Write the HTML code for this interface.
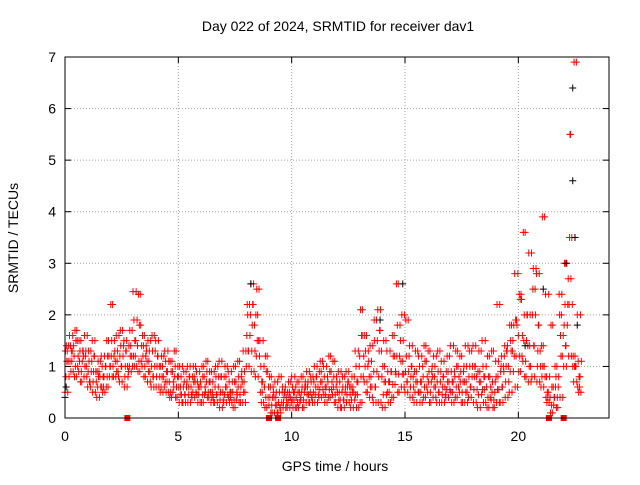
<!DOCTYPE html>
<html><head><meta charset="utf-8"><style>
body{margin:0;background:#fff}
svg text{font-family:"Liberation Sans",sans-serif;font-size:14px;fill:#000}
</style></head><body>
<svg id="chart" width="640" height="480" xmlns="http://www.w3.org/2000/svg">
<rect width="640" height="480" fill="#fff"/>
<text x="338" y="31" text-anchor="middle">Day 022 of 2024, SRMTID for receiver dav1</text>
<text x="335" y="471" text-anchor="middle">GPS time / hours</text>
<text transform="translate(18,238) rotate(-90)" text-anchor="middle">SRMTID / TECUs</text>
<g id="grid"></g>
<g id="ticks"></g>
<g id="marks"></g>
<rect x="65" y="57" width="544" height="361" fill="none" stroke="#000" stroke-width="1"/>
</svg>
<script>
const xTicks=[0,5,10,15,20];
const yTicks=[0,1,2,3,4,5,6,7];
const seriesStart=0, seriesStep=0.2;
const hiVals=[1.4,1.6,1.7,1.5,1.6,1.3,1.5,1.1,1.2,1.5,2.2,1.6,1.7,1.5,1.7,2.45,2.4,1.6,1.5,1.6,1.5,1.2,1.3,1.1,1.3,1.0,0.9,1.0,1.0,0.9,1.0,1.1,0.9,1.0,1.1,1.0,0.9,1.0,1.1,1.3,2.2,2.6,2.5,1.5,1.2,0.8,0.7,0.8,0.6,0.7,0.8,0.7,0.8,0.9,0.8,1.0,1.1,1.0,1.2,1.1,0.9,0.8,0.9,0.8,1.3,2.1,1.6,1.4,1.9,2.1,1.5,1.3,1.6,2.6,2.0,1.9,1.4,1.3,1.2,1.4,1.3,1.2,1.3,1.1,1.2,1.4,1.3,1.2,1.4,1.3,1.4,1.3,1.5,1.2,1.3,2.2,1.0,1.4,1.5,1.8,2.4,3.6,3.2,2.5,2.8,3.9,2.4,1.8,1.0,1.6,3.0,2.7,6.9,2.0,1.4];
const hiMidVals=[1.3,1.4,1.5,1.3,1.3,1.1,1.2,0.9,1.0,1.2,1.5,1.3,1.4,1.3,1.4,1.9,1.8,1.4,1.3,1.3,1.2,1.0,1.1,0.9,1.0,0.8,0.7,0.8,0.8,0.7,0.8,0.9,0.7,0.8,0.8,0.8,0.7,0.7,0.8,0.9,2.0,2.2,2.0,1.0,0.9,0.6,0.5,0.5,0.5,0.5,0.6,0.5,0.6,0.7,0.7,0.8,0.9,0.8,0.9,0.8,0.7,0.6,0.7,0.6,1.0,1.6,1.3,1.1,1.5,1.7,1.0,0.9,1.2,1.8,1.5,1.2,1.0,0.9,1.0,1.1,0.9,1.0,0.9,0.8,0.9,0.9,1.0,0.9,1.0,1.0,1.0,0.9,1.0,0.8,0.7,1.1,1.2,1.3,1.8,2.8,2.3,2.0,2.0,2.9,1.8,1.4,0.8,0.6,0.8,2.4,2.2,5.5,1.2,1.1];
const midVals=[1.1,1.3,1.2,1.1,1.2,0.9,0.9,0.8,0.8,1.0,1.2,1.1,1.2,1.0,1.2,1.5,1.4,1.2,1.1,1.0,1.0,0.8,0.9,0.7,0.8,0.6,0.6,0.6,0.7,0.6,0.6,0.7,0.5,0.6,0.5,0.6,0.5,0.5,0.6,0.7,1.6,1.8,1.5,0.7,0.6,0.4,0.4,0.3,0.4,0.4,0.5,0.4,0.5,0.6,0.5,0.6,0.7,0.6,0.7,0.6,0.5,0.5,0.6,0.5,0.7,1.2,1.0,0.8,0.9,1.3,0.7,0.7,0.9,1.2,1.1,0.9,0.8,0.7,0.7,0.8,0.7,0.8,0.7,0.6,0.7,0.7,0.8,0.7,0.7,0.8,0.8,0.7,0.8,0.6,0.5,0.8,0.9,1.0,1.3,1.9,1.6,1.5,1.4,2.0,1.3,1.0,0.5,0.4,0.6,2.0,1.8,3.5,1.0,0.8];
const loMidVals=[0.8,1.1,1.0,0.9,1.0,0.7,0.7,0.6,0.6,0.8,1.0,0.9,1.0,0.8,1.0,1.2,1.1,1.0,0.9,0.8,0.8,0.6,0.7,0.5,0.6,0.45,0.45,0.45,0.5,0.45,0.45,0.5,0.4,0.45,0.35,0.45,0.4,0.35,0.45,0.5,1.3,1.3,1.2,0.5,0.4,0.25,0.25,0.2,0.3,0.3,0.35,0.3,0.35,0.45,0.4,0.45,0.55,0.45,0.55,0.45,0.35,0.35,0.45,0.35,0.45,0.8,0.7,0.6,0.6,0.8,0.45,0.5,0.65,0.85,0.85,0.7,0.6,0.5,0.5,0.6,0.5,0.6,0.5,0.45,0.55,0.5,0.6,0.5,0.5,0.6,0.55,0.45,0.55,0.4,0.35,0.55,0.6,0.7,0.9,1.2,1.2,1.1,1.0,1.4,1.0,0.8,0.4,0.25,0.4,1.2,1.4,2.2,0.7,0.6];
const loVals=[0.5,0.9,0.8,0.7,0.8,0.6,0.5,0.4,0.5,0.6,0.8,0.8,0.7,0.6,0.9,1.0,0.9,0.8,0.7,0.6,0.6,0.5,0.5,0.4,0.4,0.3,0.3,0.3,0.4,0.3,0.3,0.4,0.3,0.3,0.2,0.3,0.3,0.2,0.3,0.3,1.0,0.9,0.8,0.3,0.2,0.1,0.1,0.1,0.2,0.2,0.2,0.2,0.2,0.3,0.3,0.3,0.4,0.3,0.4,0.3,0.2,0.2,0.3,0.2,0.2,0.3,0.5,0.4,0.3,0.3,0.2,0.3,0.4,0.5,0.6,0.5,0.4,0.3,0.3,0.4,0.3,0.4,0.3,0.3,0.4,0.3,0.4,0.3,0.3,0.4,0.3,0.2,0.3,0.2,0.2,0.3,0.3,0.4,0.5,0.6,0.9,0.8,0.7,0.8,0.7,0.6,0.3,0.1,0.2,0.4,1.0,1.2,1.0,0.5,0.4];
const blackTimes=[0.0,0.05,8.2,13.9,14.9,21.1,22.4,22.4,22.5,22.1,22.6,20.3];
const blackVals=[0.4,0.6,2.6,1.9,2.6,2.5,6.4,4.6,3.5,3.0,1.8,1.4];
const squareTimes=[2.75,9.0,9.4,21.35,22.0];
const squareVals=[0,0,0,0,0];

const X0=65,X1=609,Y0=418,Y1=57;
const xs=t=>X0+t*(X1-X0)/24;
const ys=v=>Y0-v*(Y0-Y1)/7;
const NS='http://www.w3.org/2000/svg';
const grid=document.getElementById('grid'),ticks=document.getElementById('ticks'),marks=document.getElementById('marks');
function mk(tag,attrs,parent){const e=document.createElementNS(NS,tag);for(const k in attrs)e.setAttribute(k,attrs[k]);parent.appendChild(e);return e;}
xTicks.forEach(t=>{
 const x=xs(t);
 if(t>0){const g=mk('line',{x1:x,x2:x,y1:Y0,y2:Y1,stroke:'#a0a0a0','stroke-dasharray':'1,2'},grid);
 
 }
 mk('line',{x1:x,x2:x,y1:Y0,y2:Y0-6,stroke:'#000'},ticks);
 mk('line',{x1:x,x2:x,y1:Y1,y2:Y1+6,stroke:'#000'},ticks);
 const l=mk('text',{x:x,y:Y0+23,'text-anchor':'middle'},ticks);l.textContent=t;
 
 
});
yTicks.forEach(v=>{
 const y=ys(v);
 if(v>0&&v<7){const g=mk('line',{x1:X0,x2:X1,y1:y,y2:y,stroke:'#a0a0a0','stroke-dasharray':'1,2'},grid);
 
 }
 mk('line',{x1:X0,x2:X0+6,y1:y,y2:y,stroke:'#000'},ticks);
 mk('line',{x1:X1,x2:X1-6,y1:y,y2:y,stroke:'#000'},ticks);
 const l=mk('text',{x:X0-9,y:y+5,'text-anchor':'end'},ticks);l.textContent=v;
 
 
});
function plus(t,v,color){
 const x=xs(t),y=ys(v);
 const p=mk('path',{d:`M${x-3.5},${y}H${x+3.5}M${x},${y-3.5}V${y+3.5}`,stroke:color,'stroke-width':1,fill:'none'},marks);
 
 
}
const sets=[loVals,loMidVals,midVals,hiMidVals,hiVals];
const orders=[[0,3,1,4,2,3,0,2,4,1],[4,1,3,0,2,1,2,4,0,3],[2,0,4,1,3,0,4,3,1,2],[1,4,2,3,0,4,1,0,2,3],[3,2,0,4,1,2,3,1,0,4],[0,2,4,3,1,1,0,4,2,3],[4,0,1,2,3,3,4,0,2,1]];
const n=Math.min(...sets.map(a=>a.length));
for(let i=0;i<n;i++){
 const ord=orders[i%orders.length];
 ord.forEach((s,k)=>{
  plus(seriesStart+i*seriesStep+k*seriesStep/ord.length,sets[s][i],'#ff0000');
 });
}
blackTimes.forEach((t,i)=>plus(t,blackVals[i],'#000'));
squareTimes.forEach((t,i)=>{
 const s=mk('rect',{x:xs(t)-3,y:ys(squareVals[i])-3,width:6,height:6,fill:'#ff0000'},marks);
 
 
});
</script>
</body></html>
